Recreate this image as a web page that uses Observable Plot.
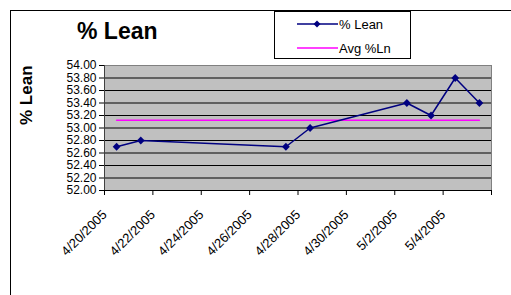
<!DOCTYPE html>
<html>
<head>
<meta charset="utf-8">
<script src="https://cdn.jsdelivr.net/npm/d3@7"></script>
<script src="https://cdn.jsdelivr.net/npm/@observablehq/plot@0.6"></script>
<style>
  html, body { margin: 0; padding: 0; background: white; overflow: hidden; }
  #wrap { position: relative; width: 511px; height: 295px; overflow: hidden; font-family: "Liberation Sans", Arial, sans-serif; }
  #border { position: absolute; left: 10px; top: 10px; width: 560px; height: 340px; border: 1px solid black; box-sizing: border-box; }
  #chart { position: absolute; left: 0; top: 0; }
  #title { position: absolute; left: 77px; top: 17px; font-size: 23px; font-weight: bold; line-height: 28px; white-space: nowrap; }
  #legend { position: absolute; left: 0; top: 0; }
</style>
</head>
<body>
<div id="wrap">
  <div id="border"></div>
  <div id="chart"></div>
  <div id="title">% Lean</div>
  <svg id="legend" width="511" height="295" font-family="Liberation Sans, Arial, sans-serif" font-size="13">
    <rect x="274.5" y="11.5" width="136" height="47" fill="white" stroke="black"/>
    <line x1="297" x2="338" y1="24" y2="24" stroke="#000080" stroke-width="1.5"/>
    <path d="M317,20.5 L320.5,24 L317,27.5 L313.5,24 Z" fill="#000080"/>
    <text x="339" y="28.5">% Lean</text>
    <line x1="297" x2="338" y1="48" y2="48" stroke="#ff00ff" stroke-width="1.5"/>
    <text x="339" y="52.5">Avg %Ln</text>
  </svg>
</div>
<script>
const dates = ["2005-04-20","2005-04-21","2005-04-27","2005-04-28","2005-05-02","2005-05-03","2005-05-04","2005-05-05"];
const lean = [52.70, 52.80, 52.70, 53.00, 53.40, 53.20, 53.80, 53.40];
const avgLn = [53.125, 53.125, 53.125, 53.125, 53.125, 53.125, 53.125, 53.125];
const yTicks = [52.0, 52.2, 52.4, 52.6, 52.8, 53.0, 53.2, 53.4, 53.6, 53.8, 54.0];
const xTickDates = ["2005-04-19T12:00Z","2005-04-21T12:00Z","2005-04-23T12:00Z","2005-04-25T12:00Z","2005-04-27T12:00Z","2005-04-29T12:00Z","2005-05-01T12:00Z","2005-05-03T12:00Z","2005-05-05T12:00Z"];
const xTickLabels = ["4/20/2005","4/22/2005","4/24/2005","4/26/2005","4/28/2005","4/30/2005","5/2/2005","5/4/2005"];

const data = dates.map((d, i) => ({date: new Date(d + "T00:00Z"), lean: lean[i], avg: avgLn[i]}));
const tickPos = xTickDates.map(d => new Date(d));
const labels = xTickLabels.map((t, i) => ({x: tickPos[i], text: t}));

const chart = Plot.plot({
  width: 511,
  height: 295,
  marginLeft: 104,
  marginRight: 20,
  marginTop: 65,
  marginBottom: 105,
  style: {fontFamily: "Liberation Sans, Arial, sans-serif", fontSize: "12px", color: "black", background: "transparent"},
  x: {type: "utc", domain: [tickPos[0], tickPos[tickPos.length - 1]], axis: null},
  y: {domain: [52, 54], axis: null},
  marks: [
    Plot.frame({fill: "#c0c0c0", stroke: "#808080"}),
    Plot.ruleY(yTicks.slice(1, -1), {stroke: "black", strokeWidth: 1}),
    Plot.ruleY([52], {stroke: "black"}),
    Plot.ruleX([tickPos[0]], {stroke: "#404040"}),
    Plot.axisY({ticks: yTicks, tickFormat: d => d.toFixed(2), tickSize: 5, tickPadding: 3, label: null, fontSize: 12, stroke: "black"}),
    Plot.axisX({ticks: tickPos, tickFormat: () => "", tickSize: 5, label: null, stroke: "black"}),
    Plot.text(labels, {x: "x", text: "text", frameAnchor: "bottom", rotate: -45, textAnchor: "end", dx: 3, dy: 25, fontSize: 13, fill: "black"}),
    Plot.line(data, {x: "date", y: "avg", stroke: "#ff00ff", strokeWidth: 1.5}),
    Plot.line(data, {x: "date", y: "lean", stroke: "#000080", strokeWidth: 1.5}),
    Plot.dot(data, {x: "date", y: "lean", symbol: "diamond2", r: 3.5, fill: "#000080", stroke: "none"}),
    Plot.text(["% Lean"], {frameAnchor: "left", dx: -78, dy: -3, rotate: -90, fontWeight: "bold", fontSize: 17, fill: "black"})
  ]
});
document.getElementById("chart").appendChild(chart);
</script>
</body>
</html>
